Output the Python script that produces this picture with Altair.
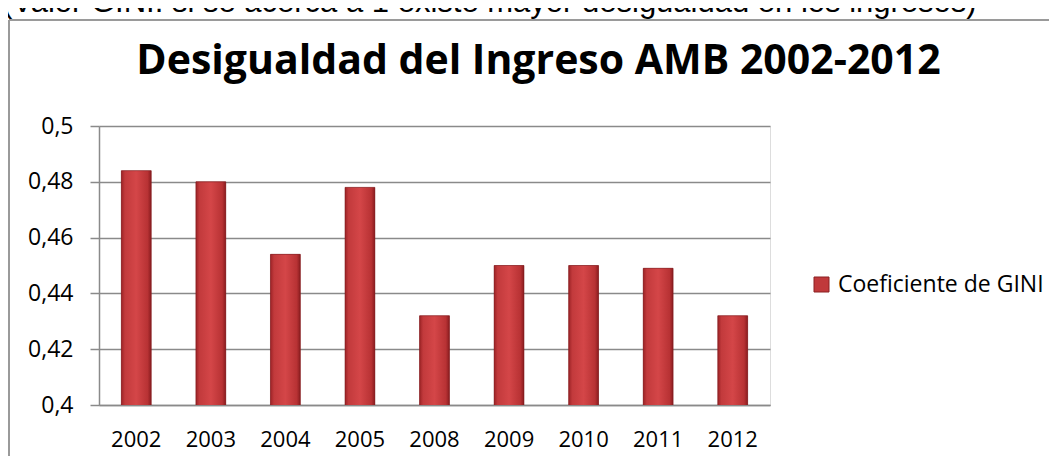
import altair as alt
import pandas as pd

years = ["2002", "2003", "2004", "2005", "2008", "2009", "2010", "2011", "2012"]
gini = [0.484, 0.480, 0.454, 0.478, 0.432, 0.450, 0.450, 0.449, 0.432]
series = ["Coeficiente de GINI"] * len(years)
y_ticks = [0.40, 0.42, 0.44, 0.46, 0.48, 0.50]
note = ["(Valor GINI: si se acerca a 1 existe mayor desigualdad en los ingresos)"]

df = pd.DataFrame({"year": years, "gini": gini, "series": series})
note_df = pd.DataFrame({"note": note})

FONT = "Open Sans"
GRID = "#8a8a8a"

x_enc = alt.X(
    "year:N",
    sort=years,
    scale=alt.Scale(paddingInner=0.6, paddingOuter=0.3),
    axis=alt.Axis(
        title=None, labelAngle=0, ticks=False, labelPadding=24,
        labelFontSize=22, labelFont=FONT, labelColor="#000000",
        domainColor=GRID, domainWidth=1.5, grid=False,
    ),
)
y_enc = alt.Y(
    "gini:Q",
    scale=alt.Scale(domain=[0.4, 0.5], zero=False, nice=False),
    axis=alt.Axis(
        title=None, values=y_ticks,
        labelExpr="replace(format(datum.value, '.2~f'), '.', ',')",
        labelFontSize=23, labelFont=FONT, labelColor="#000000", labelPadding=17,
        tickSize=9, tickColor=GRID, tickWidth=1.5,
        domainColor=GRID, domainWidth=1.5,
        grid=True, gridColor=GRID, gridWidth=1.5,
    ),
)

base = alt.Chart(df)

legend_bars = base.mark_bar(clip=True).encode(
    x=x_enc,
    y=y_enc,
    color=alt.Color(
        "series:N",
        scale=alt.Scale(range=["#c0393b"]),
        legend=alt.Legend(
            title=None, orient="none", legendX=711, legendY=147,
            symbolType="square", symbolSize=225, symbolStrokeColor="#8b2022",
            symbolStrokeWidth=1, labelFontSize=23, labelFont=FONT,
            labelColor="#000000", labelOffset=5, labelLimit=320, padding=0,
        ),
    ),
)

grad = alt.Gradient(
    gradient="linear",
    stops=[
        alt.GradientStop(offset=0, color="#9c2326"),
        alt.GradientStop(offset=0.12, color="#c23a3c"),
        alt.GradientStop(offset=0.5, color="#d44648"),
        alt.GradientStop(offset=0.88, color="#b83234"),
        alt.GradientStop(offset=1, color="#8a1c1f"),
    ],
    x1=0, x2=1, y1=0, y2=0,
)

grad_bars = base.mark_bar(fill=grad, stroke="#7a1a1c", strokeWidth=0.6, clip=True).encode(
    x=x_enc, y=y_enc,
)

border_left = base.mark_rule(color="#9a9a9a", strokeWidth=1.5, clip=False).encode(
    x=alt.value(-90), y=alt.value(-106), y2=alt.value(340)
)
border_top = base.mark_rule(color="#9a9a9a", strokeWidth=2, clip=False).encode(
    x=alt.value(-90), x2=alt.value(980), y=alt.value(-106)
)

note_text = alt.Chart(note_df).mark_text(
    font="Liberation Sans", fontSize=31, align="left", baseline="alphabetic",
    color="#000000", clip=False,
).encode(
    text="note:N", x=alt.value(-97), y=alt.value(-114)
)

chart = alt.layer(legend_bars, grad_bars, border_left, border_top, note_text).properties(
    width=671,
    height=279,
    autosize=alt.AutoSizeParams(type="none"),
    padding={"left": 91, "top": 118, "right": 279, "bottom": 51},
    title=alt.TitleParams(
        "Desigualdad del Ingreso AMB 2002-2012",
        font=FONT, fontSize=41, fontWeight="bold", color="#000000",
        anchor="middle", dx=104, baseline="alphabetic", offset=-128,
    ),
).configure_view(stroke=None).configure(background="#ffffff")

chart.save("out.html", embed_options={"renderer": "svg", "actions": False})
